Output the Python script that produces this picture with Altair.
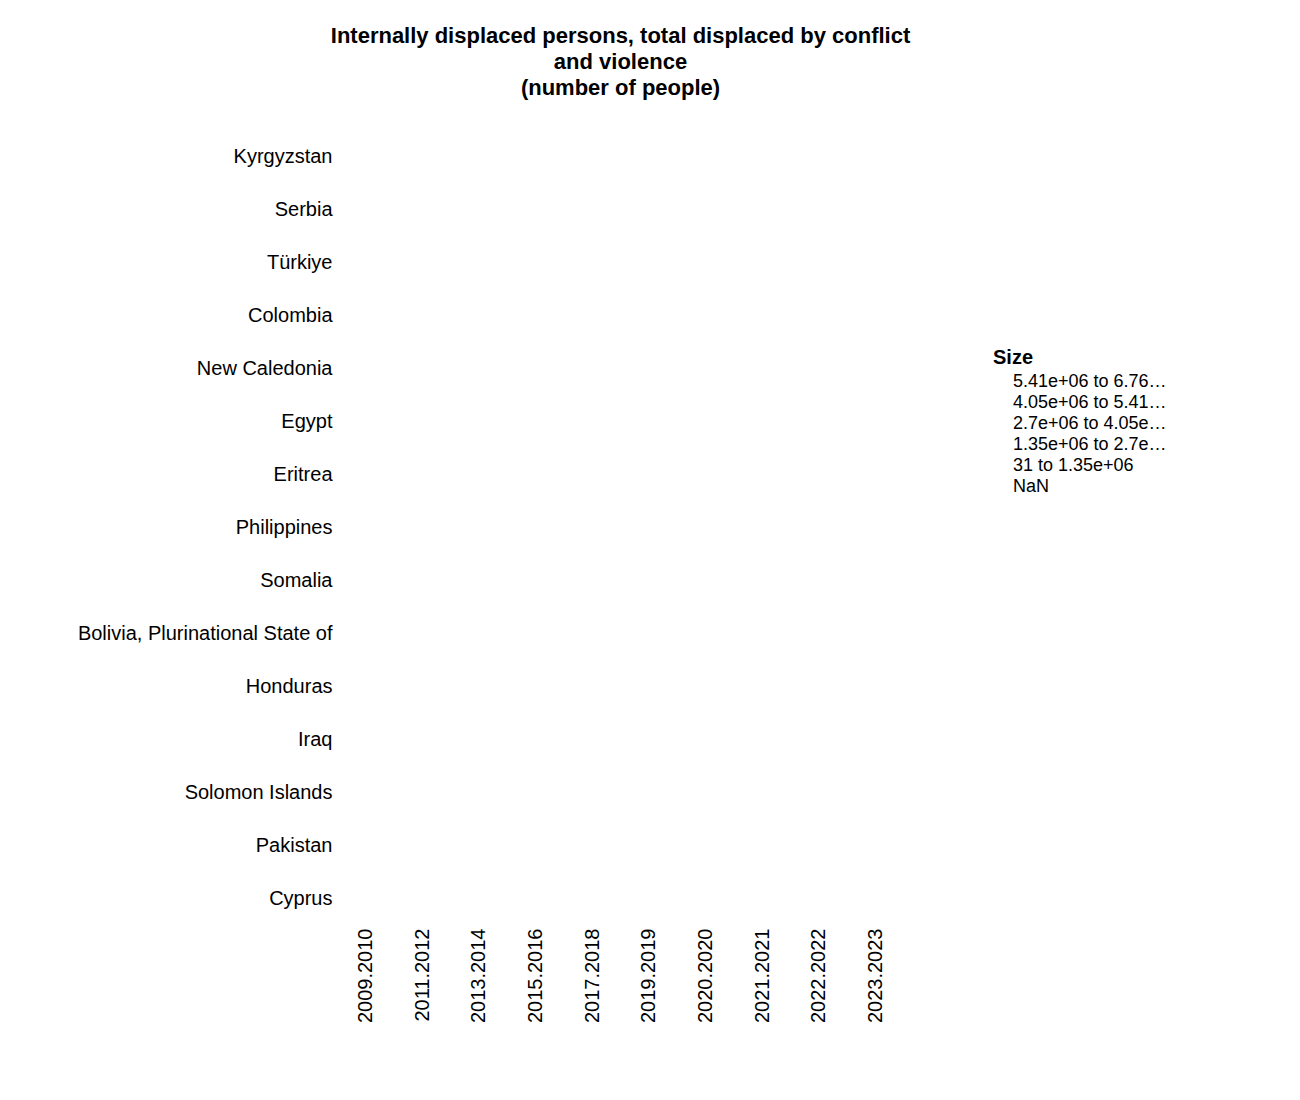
import altair as alt
import pandas as pd

countries = ["Kyrgyzstan", "Serbia", "Türkiye", "Colombia", "New Caledonia", "Egypt", "Eritrea",
             "Philippines", "Somalia", "Bolivia, Plurinational State of", "Honduras", "Iraq",
             "Solomon Islands", "Pakistan", "Cyprus"]
years = ["2009.2010", "2011.2012", "2013.2014", "2015.2016", "2017.2018", "2019.2019",
         "2020.2020", "2021.2021", "2022.2022", "2023.2023"]
size_bins = ["5.41e+06 to 6.76e+06", "4.05e+06 to 5.41e+06", "2.7e+06 to 4.05e+06",
             "1.35e+06 to 2.7e+06", "31 to 1.35e+06", "NaN"]

rows = [{"country": c, "year": y, "Size": "NaN"} for c in countries for y in years]
df = pd.DataFrame(rows)

font = "Liberation Sans"
chart = alt.Chart(df).mark_point(opacity=0).encode(
    x=alt.X("year:N", sort=years, title=None,
            axis=alt.Axis(labelAngle=-90, domain=False, ticks=False, grid=False, labelLimit=0,
                          labelFontSize=20, labelColor="black", labelFont=font, labelPadding=3)),
    y=alt.Y("country:N", sort=countries, title=None,
            axis=alt.Axis(domain=False, ticks=False, grid=False, labelFontSize=20, labelLimit=0,
                          labelColor="black", labelFont=font, labelPadding=5)),
    color=alt.Color("Size:N", scale=alt.Scale(domain=size_bins),
                    legend=alt.Legend(title="Size", symbolOpacity=0, labelFontSize=18,
                                      titleFontSize=20, labelFont=font, titleFont=font,
                                      labelColor="black", orient="none", legendX=656,
                                      legendY=218, rowPadding=3, labelOffset=2)),
).properties(
    width=567, height=795,
    title=alt.TitleParams(["Internally displaced persons, total displaced by conflict",
                           "and violence", "(number of people)"],
                          fontSize=22, font=font, fontWeight="bold", anchor="middle",
                          lineHeight=26, offset=30),
    padding={"left": 69, "top": 17, "right": 5, "bottom": 5},
).configure_view(stroke=None)

chart.save("out.html", embed_options={"renderer": "svg", "actions": False})
